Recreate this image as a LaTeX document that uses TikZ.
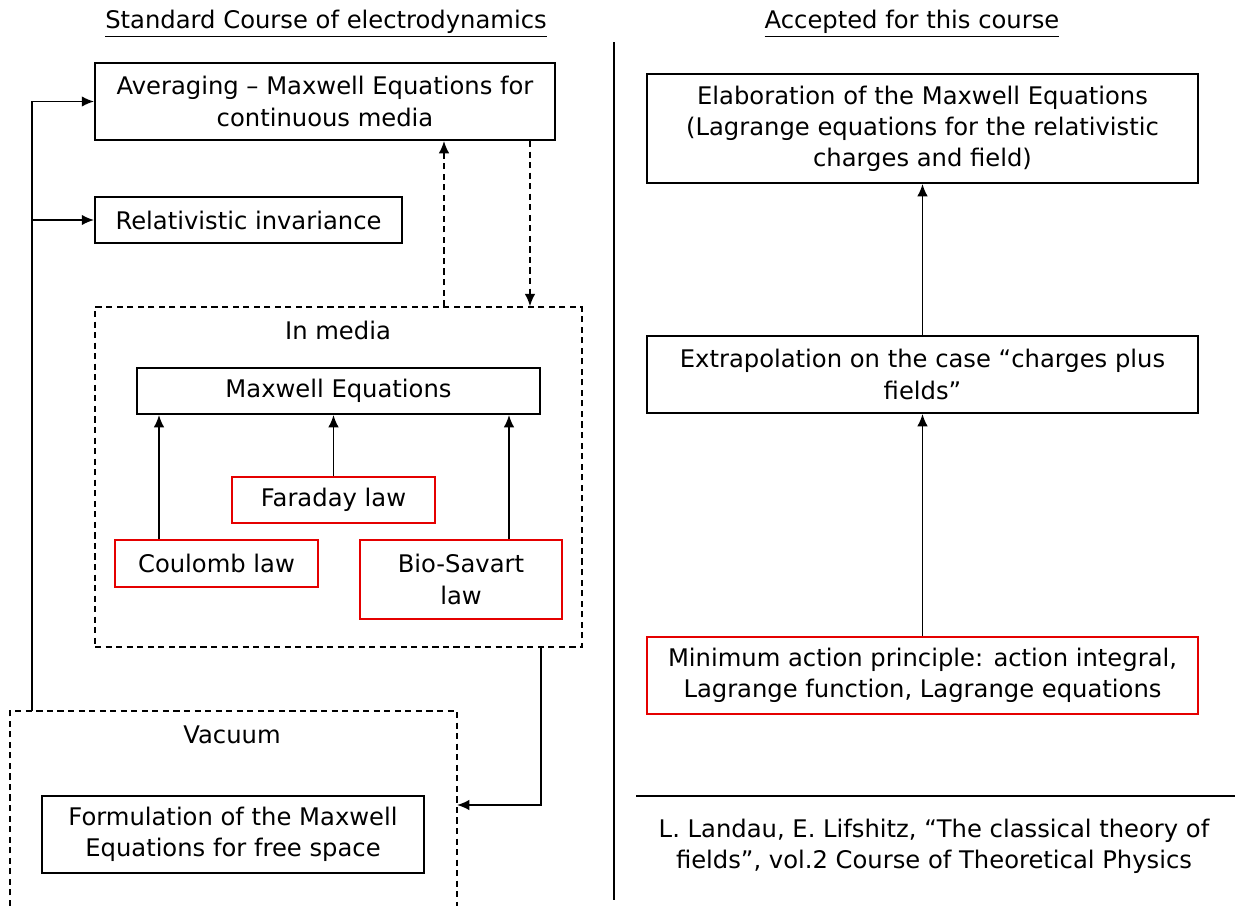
\documentclass[tikz,border=0pt]{standalone}
\usepackage{fontspec}
\setmainfont{DejaVu Sans}
\usetikzlibrary{arrows.meta,positioning}

\tikzset{
  box/.style={draw, line width=1.1pt, align=center, inner sep=0pt},
  redbox/.style={box, draw=red!90!black},
  frame/.style={draw, line width=0.9pt, dash pattern=on 3.5pt off 2.5pt},
  conn/.style={line width=1pt, -{Latex[length=7pt,width=6pt]}},
  dconn/.style={conn, dash pattern=on 3.5pt off 2.5pt},
}

\begin{document}
\begin{tikzpicture}[x=0.02cm, y=-0.02cm, font=\fontsize{13.8}{17.7}\selectfont]
    \useasboundingbox (0,0) rectangle (1235,906);
    % titles and separators
    \node (ltitle) at (326,24) {\underline{Standard Course of electrodynamics}};
    \node (rtitle) at (912,24) {\underline{Accepted for this course}};
    \draw[line width=1.1pt] (614,42) -- (614,900);
    \draw[line width=1.1pt] (636,796) -- (1235,796);

    % left column: standard course
    \node[box, minimum width=9.2cm, minimum height=1.54cm] (avg) at (325,101.5)
        {Averaging -- Maxwell Equations for\\continuous media};
    \node[box, minimum width=6.14cm, minimum height=0.92cm] (rel) at (248.5,220)
        {Relativistic invariance};

    \node[frame, minimum width=9.74cm, minimum height=6.8cm] (media) at (338.5,477) {};
    \node (medialbl) at (338,330) {In media};
    \node[box, minimum width=8.06cm, minimum height=0.92cm] (maxw) at (338.5,391)
        {Maxwell Equations};
    \node[redbox, minimum width=4.06cm, minimum height=0.92cm] (farad) at (333.5,500)
        {Faraday law};
    \node[redbox, minimum width=4.06cm, minimum height=0.94cm] (coul) at (216.5,563.5)
        {Coulomb law};
    \node[redbox, minimum width=4.04cm, minimum height=1.58cm] (biot) at (461,579.5)
        {Bio-Savart\\law};

    % vacuum frame runs off the bottom edge
    \draw[frame] (10,906) -- (10,711) -- (457,711) -- (457,906);
    \coordinate (feed) at (32,711);
    \coordinate (vacR) at (457,805);
    \node (vaclbl) at (232,735) {Vacuum};
    \node[box, minimum width=7.64cm, minimum height=1.54cm] (form) at (233,834.5)
        {Formulation of the Maxwell\\Equations for free space};

    \draw[conn] (feed) |- (avg.west);
    \draw[conn] (feed |- rel.west) -- (rel.west);
    \draw[dconn] (444,0 |- media.north) -- (444,0 |- avg.south);
    \draw[dconn] (530,0 |- avg.south) -- (530,0 |- media.north);
    \draw[conn] (159,0 |- coul.north) -- (159,0 |- maxw.south);
    \draw[conn] (farad.north) -- (farad.north |- maxw.south);
    \draw[conn] (509,0 |- biot.north) -- (509,0 |- maxw.south);
    \draw[conn] (541,0 |- media.south) |- (vacR);

    % right column: this course
    \node[box, minimum width=11.02cm, minimum height=2.18cm] (elab) at (922.5,128.5)
        {Elaboration of the Maxwell Equations\\(Lagrange equations for the relativistic\\charges and field)};
    \node[box, minimum width=11.02cm, minimum height=1.54cm] (extra) at (922.5,374.5)
        {Extrapolation on the case “charges plus\\fields”};
    \node[redbox, minimum width=11.02cm, minimum height=1.54cm] (minact) at (922.5,675.5)
        {Minimum action principle: action integral,\\Lagrange function, Lagrange equations};
    \draw[conn] (minact) -- (extra);
    \draw[conn] (extra) -- (elab);

    \node[align=center] (landau) at (934,846)
        {L. Landau, E. Lifshitz, “The classical theory of\\fields”, vol.2 Course of Theoretical Physics};
\end{tikzpicture}
\end{document}
